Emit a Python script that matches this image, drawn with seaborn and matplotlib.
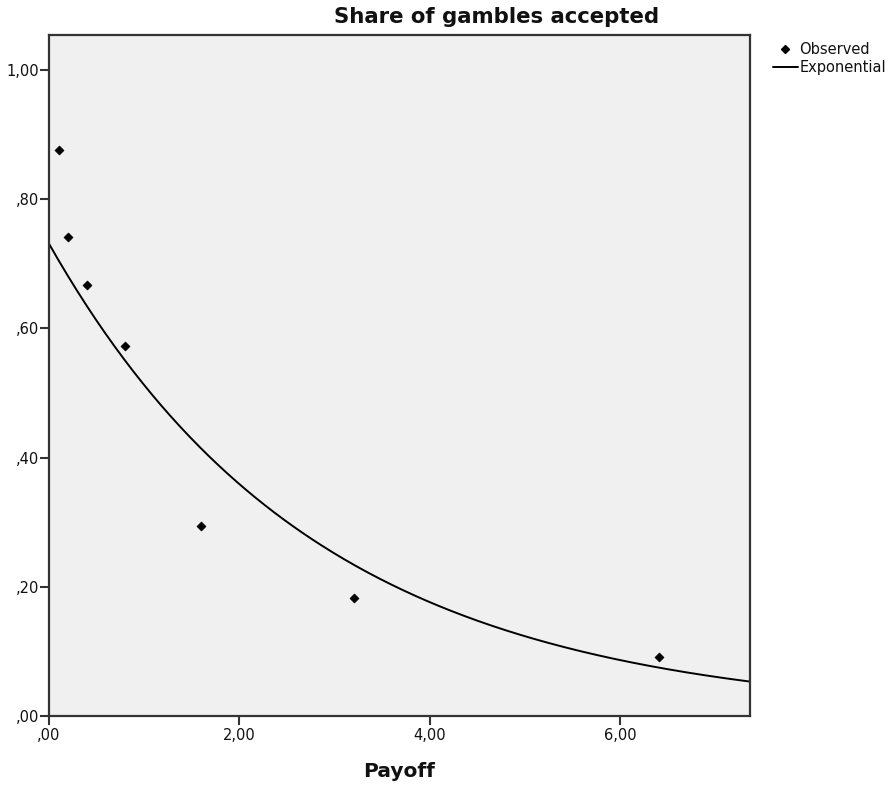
import numpy as np
import pandas as pd
import matplotlib
matplotlib.use("Agg")
import matplotlib.pyplot as plt
import seaborn as sns
from matplotlib.lines import Line2D

payoff = [0.1, 0.2, 0.4, 0.8, 1.6, 3.2, 6.4]
share = [0.876, 0.741, 0.667, 0.573, 0.294, 0.183, 0.091]
x_ticks = [0, 2, 4, 6]
x_tick_labels = [",00", "2,00", "4,00", "6,00"]
y_ticks = [0, 0.2, 0.4, 0.6, 0.8, 1.0]
y_tick_labels = [",00", ",20", ",40", ",60", ",80", "1,00"]

sns.set_theme(style="white")
plt.rcParams['font.family'] = ['DejaVu Sans']

df = pd.DataFrame({"Payoff": payoff, "Share": share})

# Exponential fit (SPSS curve estimation: ln y = ln a + b x)
b, lna = np.polyfit(df["Payoff"], np.log(df["Share"]), 1)
xmax = 7.36
xs = np.linspace(0, xmax, 300)
fit = pd.DataFrame({"Payoff": xs, "Share": np.exp(lna) * np.exp(b * xs)})

fig = plt.figure(figsize=(8.88, 7.85), dpi=100)
ax = fig.add_axes([49/888, 69/785, 701/888, 681/785])
ax.set_facecolor("#f0f0f0")

sns.lineplot(data=fit, x="Payoff", y="Share", ax=ax, color="black", linewidth=1.4)
sns.scatterplot(data=df, x="Payoff", y="Share", ax=ax, marker="D", s=22,
                color="black", edgecolor="black", zorder=5)

ax.set_xlim(0, xmax)
ax.set_ylim(0, 1.054)
ax.set_xticks(x_ticks)
ax.set_xticklabels(x_tick_labels)
ax.set_yticks(y_ticks)
ax.set_yticklabels(y_tick_labels)
ax.tick_params(axis="both", direction="out", length=6.5, width=1.5, color="#333333",
               labelsize=10.5, labelcolor="#111111", pad=2,
               bottom=True, left=True)
ax.tick_params(axis="y", pad=0.5)
for s in ax.spines.values():
    s.set_color("#333333")
    s.set_linewidth(1.6)

ax.set_xlabel("Payoff", fontsize=14.5, fontweight="bold", labelpad=14, color="#111111")
ax.set_ylabel("")

fig.text(497/888, 1 - 17/785, "Share of gambles accepted", ha="center", va="center",
         fontsize=15.3, fontweight="bold", color="#111111")

handles = [Line2D([], [], marker="D", color="black", linestyle="none", markersize=4),
           Line2D([], [], color="black", linewidth=1.4)]
fig.legend(handles, ["Observed", "Exponential"], loc="upper left",
           bbox_to_anchor=(773/888, 1 - 42/785), frameon=False, fontsize=10.5,
           handlelength=1.7, handletextpad=0.1, labelspacing=0.2,
           labelcolor="#111111", borderpad=0, borderaxespad=0)

fig.savefig("out.png", dpi=100)
